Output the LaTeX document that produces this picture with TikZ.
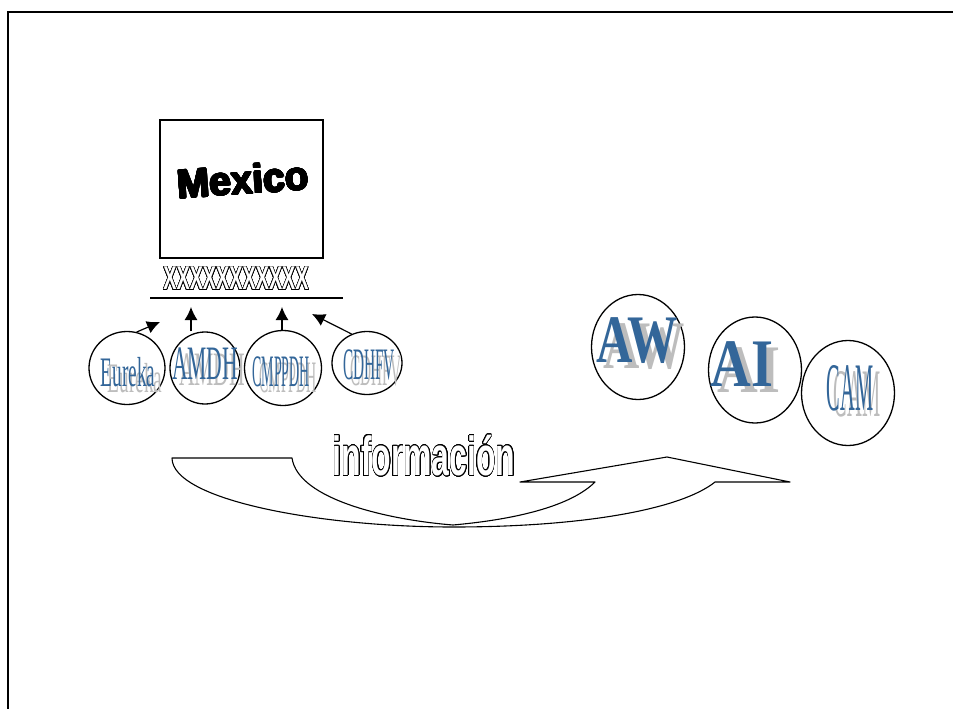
\documentclass[tikz,border=0pt]{standalone}
\usepackage{fontspec}
\usepackage{graphicx}
\usepackage{xcolor}
\usepackage[copies]{contour}
\usetikzlibrary{calc}
\usetikzlibrary{shapes.geometric}
\usetikzlibrary{arrows.meta}
\setmainfont{Liberation Serif}
\setsansfont{Liberation Sans}
\definecolor{azul}{HTML}{336699}
\definecolor{sombragris}{HTML}{BDBDBD}
\contourlength{0.9pt}
\contournumber{24}
\newcommand{\hueco}[1]{% letras huecas
{\color{white}\contour{black}{#1}}}
\newcommand{\grueso}[1]{% letras mas negras
{\contourlength{0.7pt}\contour{black}{#1}}}
\newcommand{\rotulo}[5]{% nombre, posicion, tam, escala, texto
\node[letrero, text=sombragris, shift={(7,6)}] at (#2) {\fontsize{#3}{#3}\selectfont\scalebox{#4}[1]{#5}};
\node[letrero, text=azul] (#1) at (#2) {\fontsize{#3}{#3}\selectfont\scalebox{#4}[1]{#5}};
}
\tikzstyle{marco} = [
    draw=black,
    line width=1.3pt
    ]
\tikzstyle{caja} = [
    draw=black,
    line width=1.2pt,
    rectangle,
    minimum width=163,
    minimum height=138,
    inner sep=0pt
    ]
\tikzstyle{circulo} = [
    draw=black,
    line width=1.3pt,
    ellipse,
    inner sep=0pt
    ]
\tikzstyle{letrero} = [
    inner sep=0pt
    ]
\tikzstyle{flecha} = [
    line width=1.2pt,
    -{Latex[length=13pt,width=13pt]}
    ]
\tikzstyle{vuelta} = [
    line width=1.1pt,
    line join=round
    ]

\begin{document}
\begin{tikzpicture}[x=1pt, y=-1pt]
\useasboundingbox (0,0) rectangle (953,709);
\draw[marco] (8,709) -- (8,12) -- (953,12);

% recuadro
\node[caja] (mexico) at (241.5,189) {};
\node[letrero, rotate=4] (t-mexico) at (243,180) {\sffamily\bfseries\fontsize{40}{40}\selectfont\scalebox{0.97}[1]{\grueso{Mexico}}};
\node[letrero] (equis) at (236,279) {\sffamily\bfseries\fontsize{33}{33}\selectfont\scalebox{0.6}[1]{\hueco{XXXXXXXXXXX}}};
\coordinate (raya-a) at (150,298);
\coordinate (raya-b) at (343,298);
\draw[line width=1.2pt] (raya-a) -- (raya-b);

% organismos
\node[circulo, minimum width=76, minimum height=73] (eureka) at (127,368) {};
\node[circulo, minimum width=70, minimum height=72] (amdh) at (205,368) {};
\node[circulo, minimum width=77, minimum height=75] (cmppdh) at (283,368) {};
\node[circulo, minimum width=70, minimum height=63] (cdhfv) at (367,363) {};
\rotulo{t-eureka}{128,372}{42}{0.46}{Eureka}
\rotulo{t-amdh}{205,364}{48}{0.45}{AMDH}
\rotulo{t-cmppdh}{281,372}{45}{0.31}{CMPPDH}
\rotulo{t-cdhfv}{369,365}{45}{0.34}{CDHFV}

\coordinate (p-eureka) at (160,322);
\coordinate (p-amdh) at (191,307);
\coordinate (p-cmppdh) at (282,307);
\coordinate (p-cdhfv) at (312,314);
\draw[flecha] (eureka.75) -- (p-eureka);
\draw[flecha] (amdh.north -| p-amdh) -- (p-amdh);
\draw[flecha] (cmppdh.north -| p-cmppdh) -- (p-cmppdh);
\draw[flecha] (cdhfv.118) -- (p-cdhfv);

% internacionales
\node[circulo, minimum width=93, minimum height=105] (aw) at (638,347) {};
\node[circulo, minimum width=93, minimum height=106] (ai) at (755,370) {};
\node[circulo, minimum width=93, minimum height=105] (cam) at (848,393) {};
\rotulo{t-aw}{637,341}{68}{0.74}{\bfseries AW}
\rotulo{t-ai}{742,364}{68}{0.83}{\bfseries AI}
\rotulo{t-cam}{850,388}{68}{0.3}{CAM}

% flecha de vuelta
\node[letrero] (info) at (424,456) {\sffamily\bfseries\fontsize{55}{55}\selectfont\scalebox{0.58}[1]{\hueco{información}}};
\draw[vuelta] (172,458) -- (292,458)
    .. controls (298,500) and (390,520) .. (453,525)
    .. controls (520,519) and (572,505) .. (595,482)
    -- (520,482) -- (667,457) -- (790,482) -- (715,482)
    .. controls (680,510) and (580,527) .. (453,527)
    .. controls (320,527) and (172,500) .. cycle;
\end{tikzpicture}
\end{document}
